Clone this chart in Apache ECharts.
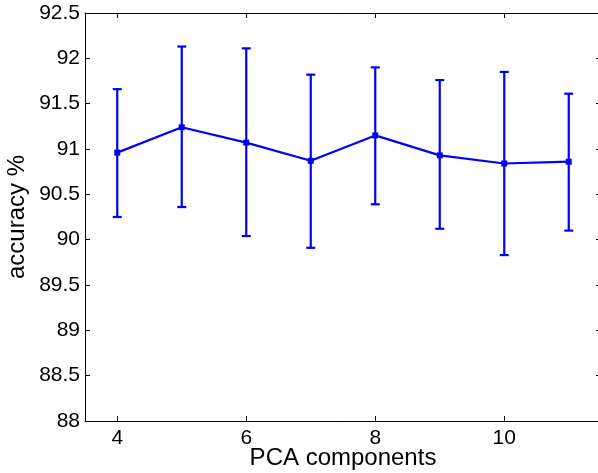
<!DOCTYPE html>
<html><head><meta charset="utf-8">
<script src="https://cdn.jsdelivr.net/npm/echarts@6/dist/echarts.min.js"></script>
<style>html,body{margin:0;padding:0;background:#fff}#c{width:598px;height:473px}</style>
</head><body><div id="c"></div>
<script>
const components = [4, 5, 6, 7, 8, 9, 10, 11];
const accuracyMean = [90.96, 91.24, 91.07, 90.87, 91.15, 90.93, 90.84, 90.86];
const accuracyUpper = [91.66, 92.13, 92.11, 91.82, 91.90, 91.76, 91.85, 91.61];
const accuracyLower = [90.25, 90.36, 90.04, 89.91, 90.39, 90.12, 89.83, 90.10];
const xTicks = [4, 6, 8, 10];

const FONT = 'Liberation Sans, Arial, sans-serif';
const blue = '#0000ff';
const chart = echarts.init(document.getElementById('c'), null, {renderer: 'canvas'});

const meanData = components.map((x, i) => [x, accuracyMean[i]]);
const errData = components.map((x, i) => [x, accuracyLower[i], accuracyUpper[i]]);

const frameX = {
  type: 'value', min: 3.5, max: 11.5,
  axisLine: {show: true, onZero: false, lineStyle: {color: '#000', width: 1}},
  splitLine: {show: false}
};
const frameY = {
  type: 'value', min: 88, max: 92.5, interval: 0.5,
  axisLine: {show: true, onZero: false, lineStyle: {color: '#000', width: 1}},
  splitLine: {show: false}
};

chart.setOption({
  animation: false,
  backgroundColor: '#fff',
  grid: {left: 85, right: -3, top: 13, bottom: 52, containLabel: false, outerBoundsMode: 'none'},
  xAxis: [
    Object.assign({}, frameX, {
      position: 'bottom',
      name: 'PCA components', nameLocation: 'middle', nameGap: 25, nameMoveOverlap: false,
      nameTextStyle: {fontFamily: FONT, fontSize: 24, color: '#000'},
      axisTick: {show: true, inside: true, length: 5, customValues: xTicks, lineStyle: {color: '#000'}},
      axisLabel: {show: true, customValues: xTicks, fontFamily: FONT, fontSize: 21, color: '#000', margin: 7}
    }),
    Object.assign({}, frameX, {
      position: 'top',
      axisTick: {show: true, inside: true, length: 5, customValues: xTicks, lineStyle: {color: '#000'}},
      axisLabel: {show: false}
    })
  ],
  yAxis: [
    Object.assign({}, frameY, {
      position: 'left',
      name: 'accuracy %', nameLocation: 'middle', nameGap: 56, nameRotate: 90, nameMoveOverlap: false,
      nameTextStyle: {fontFamily: FONT, fontSize: 24, color: '#000'},
      axisTick: {show: true, inside: true, length: 5, lineStyle: {color: '#000'}},
      axisLabel: {show: true, fontFamily: FONT, fontSize: 21, color: '#000', margin: 5,
        formatter: v => String(+v.toFixed(1))}
    }),
    Object.assign({}, frameY, {
      position: 'right',
      axisTick: {show: true, inside: true, length: 5, lineStyle: {color: '#000'}},
      axisLabel: {show: false}
    })
  ],
  series: [
    {
      type: 'custom',
      xAxisIndex: 0, yAxisIndex: 0,
      data: errData,
      encode: {x: 0, y: [1, 2]},
      renderItem: function (params, api) {
        const x = api.value(0);
        const lo = api.coord([x, api.value(1)]);
        const hi = api.coord([x, api.value(2)]);
        const hw = 4.5;
        const style = {stroke: blue, lineWidth: 2.2, fill: null};
        return {
          type: 'group',
          children: [
            {type: 'line', shape: {x1: lo[0], y1: lo[1], x2: hi[0], y2: hi[1]}, style: style},
            {type: 'line', shape: {x1: lo[0] - hw, y1: lo[1], x2: lo[0] + hw, y2: lo[1]}, style: style},
            {type: 'line', shape: {x1: hi[0] - hw, y1: hi[1], x2: hi[0] + hw, y2: hi[1]}, style: style}
          ]
        };
      },
      z: 2
    },
    {
      type: 'line',
      xAxisIndex: 0, yAxisIndex: 0,
      data: meanData,
      lineStyle: {color: blue, width: 2.2},
      itemStyle: {color: blue},
      symbol: 'rect', symbolSize: 6,
      z: 3
    }
  ]
});
</script>
</body></html>
